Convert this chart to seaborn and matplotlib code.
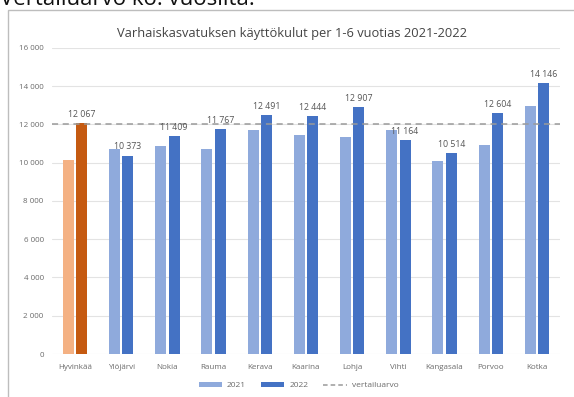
import matplotlib
matplotlib.use("Agg")
import matplotlib.pyplot as plt
import seaborn as sns
import pandas as pd
from matplotlib.patches import Patch, Rectangle
from matplotlib.lines import Line2D
from matplotlib.ticker import FuncFormatter

categories = ["Hyvinkää", "Ylöjärvi", "Nokia", "Rauma", "Kerava", "Kaarina",
              "Lohja", "Vihti", "Kangasala", "Porvoo", "Kotka"]
values_2021 = [10150, 10710, 10880, 10720, 11690, 11430, 11340, 11720, 10090, 10940, 12960]
values_2022 = [12067, 10373, 11409, 11767, 12491, 12444, 12907, 11164, 10514, 12604, 14146]
reference_value = 12000
title = "Varhaiskasvatuksen käyttökulut per 1-6 vuotias 2021-2022"
series_names = ["2021", "2022"]
ref_name = "vertailuarvo"

df = pd.DataFrame({
    "kunta": categories * 2,
    "vuosi": [series_names[0]] * len(categories) + [series_names[1]] * len(categories),
    "arvo": values_2021 + values_2022,
})

sns.set_theme(style="white")
plt.rcParams["font.family"] = ["Open Sans", "DejaVu Sans"]

fig = plt.figure(figsize=(5.74, 3.97), dpi=100)
ax = fig.add_axes([0.0906, 0.1083, 0.885, 0.771])

c21, c22 = "#8FAADC", "#4472C4"
sns.barplot(data=df, x="kunta", y="arvo", hue="vuosi", palette=[c21, c22],
            width=0.58, gap=0.18, ax=ax, legend=False, saturation=1)

# highlight Hyvinkää
ax.containers[0][0].set_facecolor("#F4B183")
ax.containers[1][0].set_facecolor("#C55A11")
for cont in ax.containers:
    for b in cont:
        b.set_edgecolor("none")
        b.set_linewidth(0)

ax.set_ylim(0, 16000)
ax.set_xlim(-0.5, len(categories) - 0.5)
ax.set_yticks(range(0, 16001, 2000))
ax.yaxis.set_major_formatter(FuncFormatter(lambda v, p: f"{int(v):,}".replace(",", " ")))
ax.grid(axis="y", color="#E3E3E3", linewidth=0.8)
ax.set_axisbelow(True)
for s in ax.spines.values():
    s.set_visible(False)
ax.tick_params(axis="both", length=0, labelsize=5.8, labelcolor="#6B6B6B")
ax.tick_params(axis="x", pad=7)
ax.tick_params(axis="y", pad=6)
ax.set_xlabel("")
ax.set_ylabel("")

ax.axhline(reference_value, color="#9A9A9A", linestyle=(0, (4, 3)), linewidth=1.1, zorder=3)

for bar, v in zip(ax.containers[1], values_2022):
    ax.annotate(f"{v:,}".replace(",", " "),
                (bar.get_x() + bar.get_width() / 2, bar.get_height()),
                xytext=(0, 3), textcoords="offset points",
                ha="center", va="bottom", fontsize=6.3, color="#555555", zorder=4)

fig.text(292 / 574, 1 - 33 / 397, title, fontsize=9.3, color="#444444",
         ha="center", va="center")

handles = [Patch(facecolor=c21, edgecolor="none"),
           Patch(facecolor=c22, edgecolor="none"),
           Line2D([0], [0], color="#9A9A9A", linestyle=(0, (3, 2)), linewidth=1.1)]
fig.legend(handles, series_names + [ref_name], loc="center", bbox_to_anchor=(0.52, 0.028),
           ncol=3, frameon=False, fontsize=6, handlelength=2.8, handleheight=0.45,
           columnspacing=1.8, handletextpad=0.6, labelcolor="#6B6B6B")

# chart frame
fig.patches.append(Rectangle((8 / 574, -0.05), 1.0, 1.0 - 10 / 397 + 0.05,
                             transform=fig.transFigure, fill=False,
                             edgecolor="#BDBDBD", linewidth=1.0))

# partially visible page text above the chart
fig.text(0.0, 1 - 5 / 397, "Vertailuarvo ko. vuosilta.", fontsize=16, color="#111111",
         ha="left", va="baseline")

fig.savefig("out.png", dpi=100)
